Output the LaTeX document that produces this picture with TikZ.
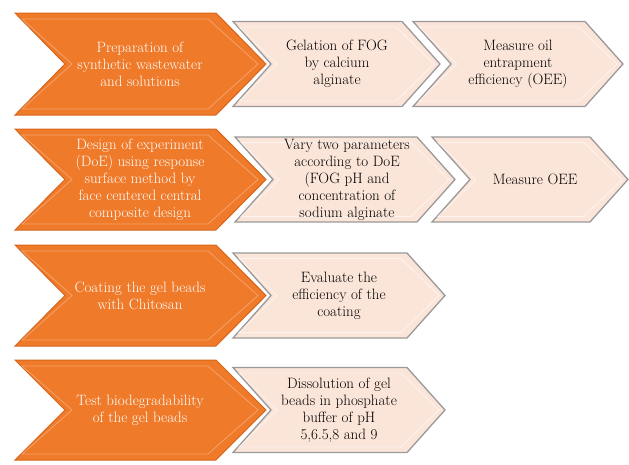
\documentclass[tikz,border=0pt]{standalone}
\usepackage{xcolor}
\definecolor{floworange}{HTML}{EF7A2A}
\definecolor{flowdark}{HTML}{D8651C}
\definecolor{flowlight}{HTML}{FBE4D8}
\definecolor{flowgray}{HTML}{9A9A9A}

% chevron: style, left, right, top, bottom, depth
\newcommand{\chev}[6]{%
  \draw[#1] (#2,#4) -- ({#3-#6},#4) -- (#3,{(#4+#5)/2}) -- ({#3-#6},#5) -- (#2,#5) -- ({#2+#6},{(#4+#5)/2}) -- cycle;}

\begin{document}
\begin{tikzpicture}[x=1pt, y=-1pt,
  orangebox/.style={fill=floworange, draw=flowdark, line width=1pt},
  orangebevel/.style={draw=white, opacity=0.3, line width=0.8pt},
  lightbox/.style={fill=flowlight, draw=flowgray, line width=1.3pt},
  lightbevel/.style={draw=white, opacity=0.6, line width=0.8pt},
  otext/.style={text=white, align=center, font=\fontsize{15}{17}\selectfont},
  ltext/.style={text=black, align=center, font=\fontsize{15}{17}\selectfont}]
  \useasboundingbox (0,0) rectangle (629,464);

  % orange steps
  \foreach \t/\b in {13/115,129/230,245/346,360/460} {
    \chev{orangebox}{15}{266}{\t}{\b}{50}
    \chev{orangebevel}{22}{258}{\t+6}{\b-6}{50}
  }
  % light steps
  \foreach \l/\r/\c in {233/440/64,413/623/64,235/455/179.5,432/628/179.5,233/445/295.5,233/445/410} {
    \chev{lightbox}{\l}{\r}{\c-42.5}{\c+42.5}{38}
    \chev{lightbevel}{\l+6}{\r-6}{\c-37}{\c+37}{38}
  }

  \node[otext] (prep) at (140,64) {Preparation of\\synthetic wastewater\\and solutions};
  \node[ltext] (gel) at (337,64) {Gelation of FOG\\by calcium\\alginate};
  \node[ltext] (oee) at (518,64) {Measure oil\\entrapment\\efficiency (OEE)};

  \node[otext] (doe) at (140,179.5) {Design of experiment\\(DoE) using response\\surface method by\\face centered central\\composite design};
  \node[ltext] (vary) at (347,179.5) {Vary two parameters\\according to DoE\\(FOG pH and\\concentration of\\sodium alginate};
  \node[ltext] (moee) at (535,179.5) {Measure OEE};

  \node[otext] (coat) at (140,295.5) {Coating the gel beads\\with Chitosan};
  \node[ltext] (evalc) at (339,295.5) {Evaluate the\\efficiency of the\\coating};

  \node[otext] (bio) at (140,410) {Test biodegradability\\of the gel beads};
  \node[ltext] (diss) at (339,410) {Dissolution of gel\\beads in phosphate\\buffer of pH\\5,6.5,8 and 9};
\end{tikzpicture}
\end{document}
